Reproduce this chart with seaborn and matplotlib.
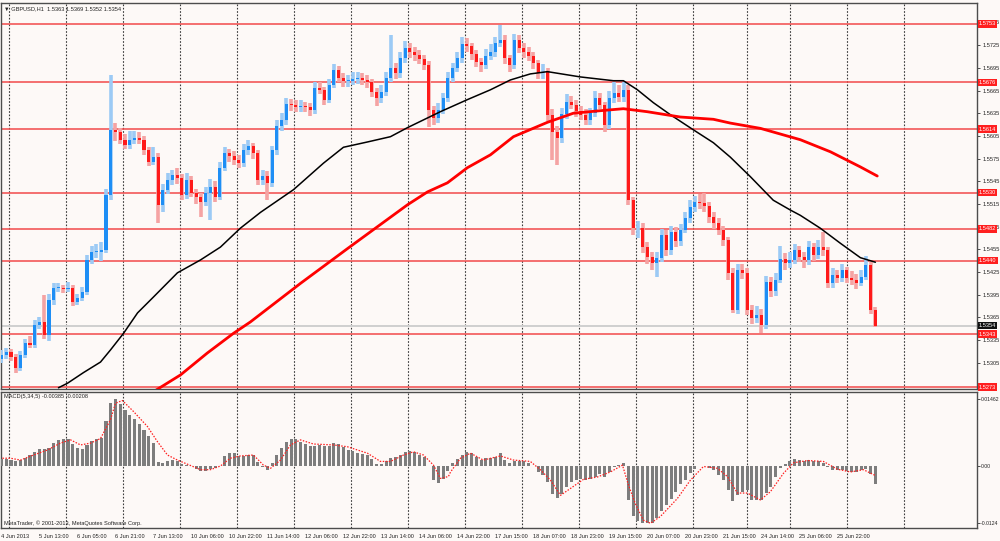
import matplotlib
matplotlib.use("Agg")
import matplotlib.pyplot as plt
import matplotlib.transforms as mtransforms
import numpy as np
import pandas as pd
import seaborn as sns

# GBPUSD H1, one candle per two hourly bars (x = hourly bar index)
first_open = 1.5310
closes = [
    1.5315, 1.5319, 1.5313, 1.5298, 1.5315, 1.5331, 1.5329, 1.5355, 1.5359, 1.5342,
    1.5388, 1.5404, 1.5404, 1.5403, 1.5404, 1.5386, 1.5391, 1.5399, 1.5441, 1.5452,
    1.5452, 1.5454, 1.5527, 1.5613, 1.5610, 1.5600, 1.5593, 1.5600, 1.5602, 1.5600,
    1.5586, 1.5571, 1.5577, 1.5514, 1.5534, 1.5547, 1.5553, 1.5549, 1.5527, 1.5547,
    1.5530, 1.5524, 1.5518, 1.5530, 1.5538, 1.5524, 1.5563, 1.5582, 1.5578, 1.5573,
    1.5569, 1.5586, 1.5592, 1.5582, 1.5547, 1.5552, 1.5543, 1.5586, 1.5618, 1.5626,
    1.5647, 1.5646, 1.5643, 1.5645, 1.5643, 1.5639, 1.5668, 1.5666, 1.5653, 1.5672,
    1.5692, 1.5682, 1.5678, 1.5678, 1.5680, 1.5682, 1.5679, 1.5676, 1.5663, 1.5655,
    1.5663, 1.5682, 1.5695, 1.5688, 1.5708, 1.5721, 1.5716, 1.5712, 1.5707, 1.5699,
    1.5639, 1.5629, 1.5639, 1.5655, 1.5682, 1.5695, 1.5708, 1.5727, 1.5724, 1.5713,
    1.5703, 1.5699, 1.5711, 1.5716, 1.5728, 1.5732, 1.5708, 1.5699, 1.5732, 1.5721,
    1.5716, 1.5711, 1.5701, 1.5688, 1.5690, 1.5633, 1.5610, 1.5602, 1.5634, 1.5650,
    1.5646, 1.5638, 1.5633, 1.5626, 1.5635, 1.5655, 1.5646, 1.5619, 1.5655, 1.5662,
    1.5656, 1.5666, 1.5520, 1.5483, 1.5483, 1.5458, 1.5445, 1.5437, 1.5444, 1.5474,
    1.5454, 1.5478, 1.5466, 1.5481, 1.5497, 1.5511, 1.5518, 1.5516, 1.5512, 1.5498,
    1.5490, 1.5481, 1.5468, 1.5424, 1.5375, 1.5428, 1.5424, 1.5375, 1.5364, 1.5368,
    1.5355, 1.5412, 1.5400, 1.5415, 1.5442, 1.5437, 1.5441, 1.5454, 1.5445, 1.5441,
    1.5458, 1.5448, 1.5458, 1.5454, 1.5411, 1.5421, 1.5417, 1.5428, 1.5417, 1.5415,
    1.5411, 1.5419, 1.5434, 1.5375, 1.5354,
]
highs = [
    1.5322, 1.5325, 1.5323, 1.5317, 1.5320, 1.5336, 1.5340, 1.5362, 1.5366, 1.5395,
    1.5396, 1.5410, 1.5410, 1.5408, 1.5412, 1.5408, 1.5396, 1.5405, 1.5447, 1.5460,
    1.5462, 1.5465, 1.5535, 1.5686, 1.5622, 1.5616, 1.5608, 1.5612, 1.5612, 1.5610,
    1.5605, 1.5590, 1.5590, 1.5582, 1.5542, 1.5556, 1.5560, 1.5562, 1.5555, 1.5556,
    1.5552, 1.5535, 1.5530, 1.5538, 1.5548, 1.5545, 1.5570, 1.5590, 1.5588, 1.5585,
    1.5580, 1.5594, 1.5600, 1.5596, 1.5586, 1.5560, 1.5558, 1.5592, 1.5626, 1.5635,
    1.5655, 1.5654, 1.5652, 1.5652, 1.5650, 1.5648, 1.5676, 1.5676, 1.5670, 1.5680,
    1.5700, 1.5698, 1.5688, 1.5686, 1.5690, 1.5690, 1.5688, 1.5686, 1.5680, 1.5668,
    1.5672, 1.5690, 1.5738, 1.5702, 1.5716, 1.5730, 1.5728, 1.5722, 1.5718, 1.5712,
    1.5704, 1.5645, 1.5648, 1.5662, 1.5690, 1.5702, 1.5716, 1.5736, 1.5734, 1.5728,
    1.5718, 1.5708, 1.5720, 1.5726, 1.5736, 1.5752, 1.5738, 1.5712, 1.5740, 1.5738,
    1.5728, 1.5722, 1.5716, 1.5706, 1.5700, 1.5695, 1.5640, 1.5618, 1.5642, 1.5660,
    1.5658, 1.5652, 1.5644, 1.5640, 1.5642, 1.5664, 1.5662, 1.5650, 1.5664, 1.5676,
    1.5672, 1.5676, 1.5672, 1.5524, 1.5492, 1.5490, 1.5465, 1.5452, 1.5452, 1.5482,
    1.5480, 1.5486, 1.5484, 1.5488, 1.5504, 1.5520, 1.5526, 1.5528, 1.5530, 1.5518,
    1.5504, 1.5496, 1.5486, 1.5472, 1.5430, 1.5436, 1.5436, 1.5430, 1.5382, 1.5380,
    1.5376, 1.5420, 1.5418, 1.5424, 1.5460, 1.5450, 1.5452, 1.5462, 1.5460, 1.5452,
    1.5466, 1.5464, 1.5468, 1.5478, 1.5458, 1.5430, 1.5428, 1.5436, 1.5432, 1.5426,
    1.5422, 1.5428, 1.5446, 1.5440, 1.5379,
]
lows = [
    1.5305, 1.5310, 1.5308, 1.5291, 1.5294, 1.5311, 1.5324, 1.5325, 1.5350, 1.5336,
    1.5334, 1.5382, 1.5398, 1.5397, 1.5398, 1.5380, 1.5381, 1.5387, 1.5395, 1.5436,
    1.5444, 1.5440, 1.5450, 1.5520, 1.5598, 1.5594, 1.5588, 1.5588, 1.5594, 1.5594,
    1.5580, 1.5565, 1.5566, 1.5490, 1.5505, 1.5528, 1.5540, 1.5542, 1.5520, 1.5522,
    1.5524, 1.5515, 1.5498, 1.5512, 1.5494, 1.5518, 1.5520, 1.5558, 1.5570, 1.5566,
    1.5562, 1.5564, 1.5580, 1.5575, 1.5540, 1.5540, 1.5520, 1.5538, 1.5580, 1.5612,
    1.5620, 1.5638, 1.5636, 1.5637, 1.5636, 1.5632, 1.5634, 1.5660, 1.5646, 1.5648,
    1.5668, 1.5676, 1.5670, 1.5670, 1.5672, 1.5674, 1.5672, 1.5668, 1.5656, 1.5645,
    1.5648, 1.5658, 1.5676, 1.5680, 1.5682, 1.5702, 1.5708, 1.5704, 1.5700, 1.5692,
    1.5617, 1.5620, 1.5622, 1.5634, 1.5650, 1.5676, 1.5690, 1.5702, 1.5716, 1.5706,
    1.5696, 1.5690, 1.5694, 1.5705, 1.5710, 1.5722, 1.5700, 1.5690, 1.5694, 1.5714,
    1.5708, 1.5704, 1.5694, 1.5680, 1.5680, 1.5625, 1.5573, 1.5567, 1.5596, 1.5628,
    1.5640, 1.5630, 1.5626, 1.5620, 1.5620, 1.5630, 1.5640, 1.5610, 1.5614, 1.5648,
    1.5650, 1.5650, 1.5514, 1.5474, 1.5470, 1.5450, 1.5436, 1.5428, 1.5418, 1.5438,
    1.5446, 1.5448, 1.5458, 1.5460, 1.5476, 1.5490, 1.5505, 1.5508, 1.5505, 1.5490,
    1.5482, 1.5474, 1.5460, 1.5415, 1.5371, 1.5370, 1.5416, 1.5368, 1.5356, 1.5358,
    1.5344, 1.5350, 1.5392, 1.5394, 1.5410, 1.5428, 1.5430, 1.5436, 1.5438, 1.5430,
    1.5434, 1.5440, 1.5442, 1.5446, 1.5404, 1.5404, 1.5410, 1.5412, 1.5410, 1.5408,
    1.5402, 1.5406, 1.5414, 1.5370, 1.5352,
]

# moving averages (black and red) read at a few bar indices
ma_fast_idx = [24, 27.8, 34.5, 41.7, 45.9, 51.4, 57.3, 64, 74.1, 83.8, 92.2, 100.6,
               109.1, 123, 135.6, 144, 154.1, 163.8, 171, 184.8, 196.2, 205.9, 214.3,
               222.7, 229.9, 243.8, 257.7, 261.9, 267.8, 274.5, 281.7, 291.4, 299.8,
               306.9, 315.4, 325, 332.2, 336.4, 344.8, 353.3, 361.7, 368]
ma_fast = [1.5272, 1.5278, 1.5292, 1.5306, 1.5322, 1.5344, 1.5371, 1.5392, 1.5424,
           1.5441, 1.5458, 1.5483, 1.5504, 1.5534, 1.5569, 1.5590, 1.5597, 1.5604,
           1.5616, 1.5637, 1.5653, 1.5666, 1.5679, 1.5687, 1.5690, 1.5683, 1.5678,
           1.5678, 1.5666, 1.5649, 1.5633, 1.5613, 1.5596, 1.5577, 1.5551, 1.5520,
           1.5507, 1.5500, 1.5483, 1.5463, 1.5444, 1.5438]
ma_slow_idx = [63.6, 75.4, 86.7, 97.7, 104.8, 125.9, 145.7, 156.6, 171, 179.4, 187.8,
               196.2, 205.9, 215.6, 229.9, 240.8, 250.9, 261.9, 272, 285.9, 299.8,
               306.9, 319.6, 336.4, 349.1, 361.7, 368.8]
ma_slow = [1.5266, 1.5289, 1.5318, 1.5344, 1.5359, 1.5410, 1.5456, 1.5481, 1.5514,
           1.5531, 1.5543, 1.5563, 1.5580, 1.5604, 1.5623, 1.5635, 1.5638, 1.5641,
           1.5637, 1.5630, 1.5627, 1.5622, 1.5615, 1.5600, 1.5584, 1.5564, 1.5552]

# MACD(5,34,5) main value per candle and signal line
macd_main = [
    0.0015, 0.0015, 0.0013, 0.0011, 0.0013, 0.0017, 0.0024, 0.0031, 0.0037, 0.0037,
    0.0039, 0.0051, 0.0057, 0.0059, 0.0058, 0.0047, 0.0039, 0.0038, 0.0046, 0.0054,
    0.0059, 0.0061, 0.0099, 0.0138, 0.0146, 0.0135, 0.0123, 0.0112, 0.0103, 0.0092,
    0.0078, 0.0066, 0.0051, 0.0008, 0.0007, 0.0010, 0.0013, 0.0010, 0.0005, 0.0002,
    -0.0001, -0.0006, -0.0011, -0.0010, -0.0007, -0.0005, 0.0001, 0.0022, 0.0028, 0.0028,
    0.0022, 0.0022, 0.0024, 0.0024, 0.0008, -0.0003, -0.0008, 0.0006, 0.0024, 0.0039,
    0.0052, 0.0058, 0.0058, 0.0052, 0.0048, 0.0043, 0.0043, 0.0046, 0.0043, 0.0043,
    0.0050, 0.0047, 0.0041, 0.0036, 0.0032, 0.0029, 0.0027, 0.0024, 0.0016, 0.0005,
    0.0004, 0.0011, 0.0017, 0.0020, 0.0024, 0.0031, 0.0032, 0.0030, 0.0025, 0.0019,
    0.0000, -0.0031, -0.0037, -0.0029, -0.0011, 0.0007, 0.0016, 0.0024, 0.0031, 0.0028,
    0.0019, 0.0014, 0.0017, 0.0018, 0.0020, 0.0029, 0.0014, 0.0006, 0.0010, 0.0011,
    0.0010, 0.0007, 0.0000, -0.0014, -0.0020, -0.0035, -0.0061, -0.0070, -0.0060, -0.0046,
    -0.0035, -0.0031, -0.0029, -0.0031, -0.0029, -0.0023, -0.0017, -0.0024, -0.0014, -0.0002,
    0.0002, 0.0006, -0.0074, -0.0108, -0.0119, -0.0124, -0.0124, -0.0124, -0.0114, -0.0099,
    -0.0085, -0.0072, -0.0056, -0.0039, -0.0030, -0.0016, -0.0006, -0.0001, -0.0001, -0.0004,
    -0.0008, -0.0020, -0.0031, -0.0052, -0.0077, -0.0064, -0.0056, -0.0052, -0.0074, -0.0074,
    -0.0074, -0.0059, -0.0046, -0.0025, -0.0005, 0.0004, 0.0011, 0.0015, 0.0014, 0.0011,
    0.0013, 0.0012, 0.0011, 0.0006, -0.0002, -0.0008, -0.0008, -0.0008, -0.0011, -0.0013,
    -0.0013, -0.0008, -0.0007, -0.0017, -0.00385,
]
signal_idx = [0.4, 3.8, 8, 13.5, 19.4, 24.8, 29.1, 33.3, 37.5, 41.7, 45.9, 48, 50.9,
              55.6, 61.5, 65.7, 69.9, 74.1, 78.3, 83.8, 88, 92.2, 96.4, 100.6, 106.1,
              110.3, 113.3, 117.5, 121.7, 125.9, 131.4, 139.8, 145.7, 154.1, 159.6,
              163.8, 169.3, 173.5, 177.7, 181.9, 184.8, 188.2, 189.1, 193.3, 197.5,
              202.9, 210.1, 215.6, 222.7, 226.9, 231.2, 235.4, 239.6, 245.1, 250.9,
              256.4, 261.5, 264, 266.9, 270.3, 273.3, 277.5, 284.6, 290.1, 295.6,
              301.5, 305.7, 309.9, 314.1, 319.6, 323.8, 329.3, 333.5, 339.4, 346.1,
              352, 357.5, 363, 368]
signal = [0.0017, 0.0017, 0.0013, 0.0024, 0.0035, 0.0050, 0.0057, 0.0046, 0.0050,
          0.0060, 0.0101, 0.0137, 0.0143, 0.0119, 0.0086, 0.0053, 0.0024, 0.0013,
          0.0004, -0.0008, -0.0008, 0.0000, 0.0017, 0.0022, 0.0024, 0.0002, -0.0005,
          0.0013, 0.0046, 0.0057, 0.0048, 0.0046, 0.0042, 0.0028, 0.0010, 0.0010,
          0.0024, 0.0031, 0.0024, 0.0002, -0.0027, -0.0023, -0.0013, 0.0017, 0.0028,
          0.0013, 0.0022, 0.0013, 0.0010, -0.0008, -0.0031, -0.0064, -0.0049, -0.0029,
          -0.0024, -0.0013, 0.0002, -0.0041, -0.0082, -0.0118, -0.0125, -0.0110,
          -0.0071, -0.0031, -0.0001, -0.0005, -0.0023, -0.0059, -0.0059, -0.0074,
          -0.0056, -0.0016, 0.0007, 0.0012, 0.0010, -0.0007, -0.0013, -0.0008, -0.00208]

level_lines = [1.5753, 1.5676, 1.5614, 1.5530, 1.5482, 1.5440, 1.5343, 1.5273]
last_price = 1.5354
price_ticks = [1.5755, 1.5725, 1.5695, 1.5665, 1.5635, 1.5605, 1.5575, 1.5545,
               1.5515, 1.5485, 1.5455, 1.5425, 1.5395, 1.5365, 1.5335, 1.5305]
macd_ticks = [0.01462, 0.0, -0.0124]
macd_tick_labels = ["0.01462", "0.00", "-0.0124"]
day_breaks = [3, 27, 51, 75, 99, 123, 147, 171, 195, 219, 243, 267, 291, 314, 332, 356, 380]
time_ticks = [0, 16, 32, 48, 64, 80, 96, 112, 128, 144, 160, 176, 192, 208, 224, 240,
              256, 272, 288, 304, 320, 336, 352]
time_labels = ["4 Jun 2013", "5 Jun 13:00", "6 Jun 05:00", "6 Jun 21:00", "7 Jun 13:00",
               "10 Jun 06:00", "10 Jun 22:00", "11 Jun 14:00", "12 Jun 06:00",
               "12 Jun 22:00", "13 Jun 14:00", "14 Jun 06:00", "14 Jun 22:00",
               "17 Jun 15:00", "18 Jun 07:00", "18 Jun 23:00", "19 Jun 15:00",
               "20 Jun 07:00", "20 Jun 23:00", "21 Jun 15:00", "24 Jun 14:00",
               "25 Jun 06:00", "25 Jun 22:00"]

df = pd.DataFrame({"close": closes, "high": highs, "low": lows, "macd": macd_main})
df["idx"] = np.arange(len(df)) * 2
df["open"] = df["close"].shift(1).fillna(first_open)
df["up"] = df["close"] >= df["open"]

sns.set_style("white")
plt.rcParams["font.family"] = ["Liberation Sans", "DejaVu Sans"]

bg = "#fdf9f7"
edge = "#4d4d4d"
lvl_red = "#f24a4a"
fs = 4.1

fig = plt.figure(figsize=(10, 5.41), dpi=100, facecolor=bg)
ax = fig.add_axes([0.001, 0.2810, 0.976, 0.7135])
ax2 = fig.add_axes([0.001, 0.0240, 0.976, 0.2514], sharex=ax)

for a in (ax, ax2):
    a.set_facecolor(bg)
    for s in a.spines.values():
        s.set_color(edge)
        s.set_linewidth(1)
    for d in day_breaks:
        a.axvline(d, color="#3a3a3a", lw=0.8, ls=(0, (1.5, 1.5)), zorder=1)

# horizontal levels
for lv in level_lines:
    ax.axhline(lv, color=lvl_red, lw=1.1, zorder=2)
ax.axhline(last_price, color="#cfcfcf", lw=1.4, zorder=2)

# candles: light wicks, solid bodies
up_c, dn_c = "#1e8ef5", "#ff1a1a"
wick_col = np.where(df["up"], "#9ccaf5", "#f5a3a3")
ax.vlines(df["idx"], df["low"], df["high"], colors=wick_col, lw=2.6, zorder=3)
body_lo = df[["open", "close"]].min(axis=1)
body_h = (df["close"] - df["open"]).abs().clip(lower=0.00008)
ax.bar(df["idx"], body_h, bottom=body_lo, width=1.3,
       color=np.where(df["up"], up_c, dn_c), edgecolor="none", zorder=4)

sns.lineplot(x=ma_fast_idx, y=ma_fast, ax=ax, color="black", lw=1.1, zorder=5)
sns.lineplot(x=ma_slow_idx, y=ma_slow, ax=ax, color="#ff0000", lw=2.0, zorder=5)

ax.set_xlim(-0.2, 410.8)
ax.set_ylim(1.52704, 1.57808)
ax.yaxis.tick_right()
ax.set_yticks(price_ticks)
ax.set_yticklabels([f"{p:.4f}" for p in price_ticks])
ax.tick_params(axis="y", length=2.5, width=0.7, color=edge, labelsize=fs, pad=1.5, labelcolor="#222")
ax.tick_params(axis="x", bottom=False, labelbottom=False)

lab_tr = mtransforms.blended_transform_factory(ax.transAxes, ax.transData)
for lv in level_lines:
    ax.text(1.002, lv, f"{lv:.4f}", transform=lab_tr, ha="left", va="center", fontsize=fs,
            color="white", zorder=10, clip_on=False,
            bbox=dict(boxstyle="square,pad=0.2", fc="#ff1f1f", ec="none"))
ax.text(1.002, last_price, f"{last_price:.4f}", transform=lab_tr, ha="left", va="center",
        fontsize=fs, color="white", zorder=10, clip_on=False,
        bbox=dict(boxstyle="square,pad=0.2", fc="#111111", ec="none"))

ax.text(0.003, 0.992, "\u25bc GBPUSD,H1  1.5363 1.5369 1.5352 1.5354", transform=ax.transAxes,
        ha="left", va="top", fontsize=fs, color="#222")

# MACD panel
ax2.bar(df["idx"], df["macd"], width=1.3, color="#7d7d7d", edgecolor="none", zorder=3)
sns.lineplot(x=signal_idx, y=signal, ax=ax2, color="#ff2020", lw=0.9,
             linestyle=(0, (1.2, 1.2)), zorder=4)
ax2.set_ylim(-0.01353, 0.01615)
ax2.yaxis.tick_right()
ax2.set_yticks(macd_ticks)
ax2.set_yticklabels(macd_tick_labels)
ax2.tick_params(axis="y", length=2, width=0.7, color=edge, labelsize=3.7, pad=1, labelcolor="#222")
ax2.set_xticks(time_ticks)
ax2.set_xticklabels(time_labels)
ax2.tick_params(axis="x", length=2.5, width=0.7, color=edge, labelsize=fs, pad=1.5, labelcolor="#222")
plt.setp(ax2.get_xticklabels(), ha="left")
ax2.text(0.003, 0.985, "MACD(5,34,5) -0.00385 -0.00208", transform=ax2.transAxes,
         ha="left", va="top", fontsize=fs, color="#222")
ax2.text(0.003, 0.015, "MetaTrader, \u00a9 2001-2013, MetaQuotes Software Corp.",
         transform=ax2.transAxes, ha="left", va="bottom", fontsize=fs, color="#222")

fig.savefig("out.png", dpi=100, facecolor=bg)
